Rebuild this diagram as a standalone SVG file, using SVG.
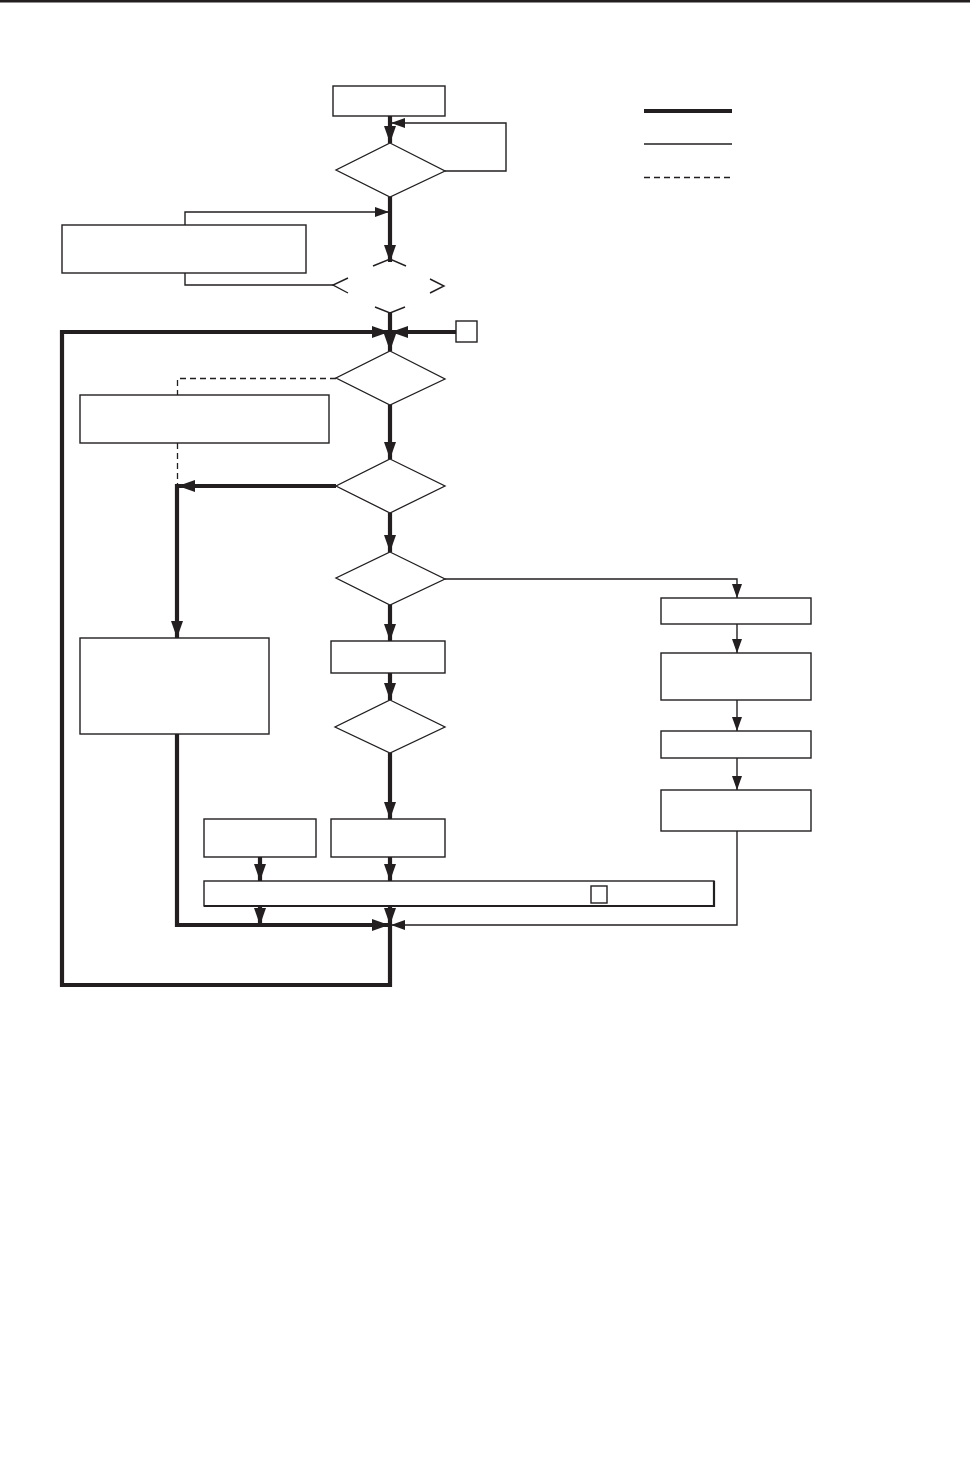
<svg xmlns="http://www.w3.org/2000/svg" width="970" height="1474" viewBox="0 0 970 1474">
<style>
.box{fill:#fff;stroke:#231f20;stroke-width:1.4}
.dia{fill:#fff;stroke:#231f20;stroke-width:1.3}
.thick{fill:none;stroke:#231f20;stroke-width:4.2}
.thin{fill:none;stroke:#231f20;stroke-width:1.4}
.dash{fill:none;stroke:#231f20;stroke-width:1.3;stroke-dasharray:6,4}
</style>
<defs>
<marker id="ak" markerUnits="userSpaceOnUse" markerWidth="17" markerHeight="12" refX="17" refY="6" orient="auto"><path d="M0,0 L17,6 L0,12 z" fill="#231f20"/></marker>
<marker id="an" markerUnits="userSpaceOnUse" markerWidth="14" markerHeight="10" refX="14" refY="5" orient="auto"><path d="M0,0 L14,5 L0,10 z" fill="#231f20"/></marker>
</defs>
<rect width="970" height="1474" fill="#fff"/>
<rect x="0" y="0" width="970" height="2.5" fill="#231f20"/>

<g id="connectors">
<path class="thick" d="M390,116 V143" marker-end="url(#ak)"/>
<path class="thin" d="M445,171 H506 V123 H391" marker-end="url(#an)"/>
<path class="thick" d="M390,197 V262" marker-end="url(#ak)"/>
<path class="thin" d="M185,225 V212 H389" marker-end="url(#an)"/>
<path class="thin" d="M185,273 V285 H334"/>
<path class="thick" d="M390,313 V351" marker-end="url(#ak)"/>
<path class="thick" d="M390,925 V985 H62 V332 H389" marker-end="url(#ak)"/>
<path class="thick" d="M456,332 H391" marker-end="url(#ak)"/>
<path class="dash" d="M336,378.5 H177.5 V395"/>
<path class="dash" d="M177.5,443 V486"/>
<path class="thick" d="M390,405 V459" marker-end="url(#ak)"/>
<path class="thick" d="M336,486 H178" marker-end="url(#ak)"/>
<path class="thick" d="M177,484 V638" marker-end="url(#ak)"/>
<path class="thick" d="M390,513 V552" marker-end="url(#ak)"/>
<path class="thin" d="M445,579 H737 V598" marker-end="url(#an)"/>
<path class="thick" d="M390,605 V641" marker-end="url(#ak)"/>
<path class="thick" d="M390,673 V700" marker-end="url(#ak)"/>
<path class="thick" d="M390,753 V819" marker-end="url(#ak)"/>
<path class="thin" d="M737,624 V653" marker-end="url(#an)"/>
<path class="thin" d="M737,700 V731" marker-end="url(#an)"/>
<path class="thin" d="M737,758 V790" marker-end="url(#an)"/>
<path class="thin" d="M737,831 V925 H391" marker-end="url(#an)"/>
<path class="thick" d="M260,857 V881" marker-end="url(#ak)"/>
<path class="thick" d="M390,857 V881" marker-end="url(#ak)"/>
<path class="thick" d="M260,906 V925" marker-end="url(#ak)"/>
<path class="thick" d="M390,906 V925" marker-end="url(#ak)"/>
<path class="thick" d="M177,734 V925 H389" marker-end="url(#ak)"/>
</g>

<g id="legend">
<line x1="644" y1="111" x2="732" y2="111" stroke="#231f20" stroke-width="4"/>
<line x1="644" y1="144" x2="732" y2="144" stroke="#231f20" stroke-width="1.4"/>
<line x1="644" y1="177.5" x2="732" y2="177.5" class="dash"/>
</g>

<g id="nodeA"><rect class="box" x="333" y="86" width="112" height="30"/></g>
<g id="dia1"><polygon class="dia" points="390,143 445,171 390,197 336,170"/></g>
<g id="nodeB"><rect class="box" x="62" y="225" width="244" height="48"/></g>
<g id="dia2">
<path class="thin" d="M373,266 L390,259 L406,266"/>
<path class="thin" d="M348,278 L333,285 L348,293"/>
<path class="thin" d="M430,279 L444,286 L430,293"/>
<path class="thin" d="M375,307 L390,313 L405,307"/>
</g>
<g id="smallBox1"><rect class="box" x="456" y="321" width="21" height="21"/></g>
<g id="dia3"><polygon class="dia" points="390,351 445,379 390,405 336,378"/></g>
<g id="nodeC"><rect class="box" x="80" y="395" width="249" height="48"/></g>
<g id="dia4"><polygon class="dia" points="390,459 445,486 390,513 336,486"/></g>
<g id="dia5"><polygon class="dia" points="390,552 445,579 390,605 336,578"/></g>
<g id="nodeD"><rect class="box" x="80" y="638" width="189" height="96"/></g>
<g id="nodeE"><rect class="box" x="331" y="641" width="114" height="32"/></g>
<g id="dia6"><polygon class="dia" points="390,700 445,727 390,753 335,727"/></g>
<g id="nodeH"><rect class="box" x="204" y="819" width="112" height="38"/></g>
<g id="nodeF"><rect class="box" x="331" y="819" width="114" height="38"/></g>
<g id="nodeG"><rect class="box" x="661" y="598" width="150" height="26"/></g>
<g id="nodeI"><rect class="box" x="661" y="653" width="150" height="47"/></g>
<g id="nodeJ"><rect class="box" x="661" y="731" width="150" height="27"/></g>
<g id="nodeK"><rect class="box" x="661" y="790" width="150" height="41"/></g>
<g id="nodeL">
<rect class="box" x="204" y="881" width="510" height="25"/>
<path d="M204,906 H714 V881" fill="none" stroke="#231f20" stroke-width="2.2"/>
<rect class="box" x="591" y="886" width="16" height="17" stroke-width="1"/>
</g>
</svg>
